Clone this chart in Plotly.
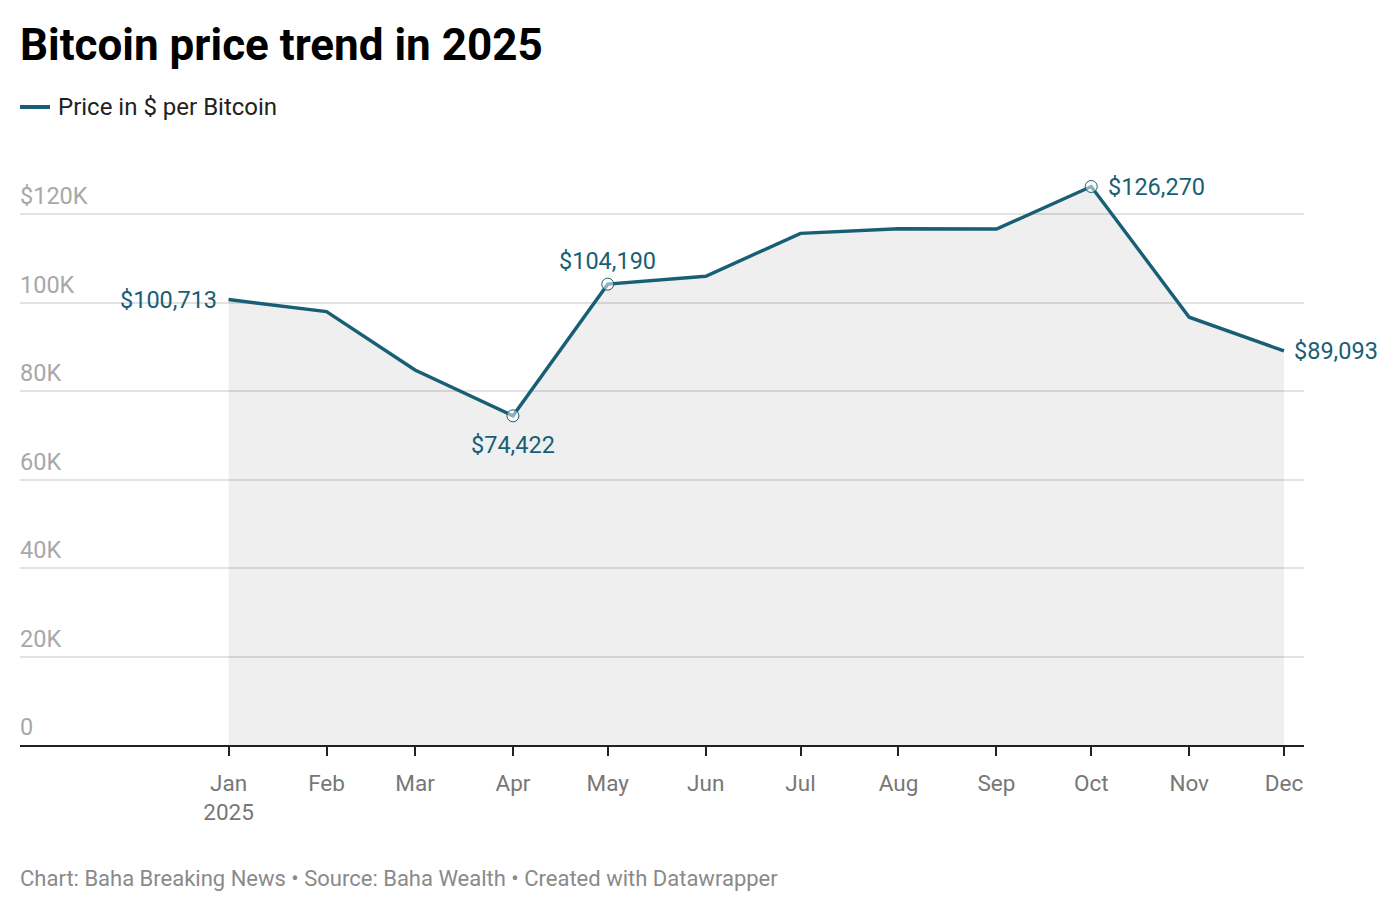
import plotly.graph_objects as go

# ---- data ----
dates = ["2025-01-01", "2025-02-01", "2025-03-01", "2025-04-01", "2025-05-01", "2025-06-01",
         "2025-07-01", "2025-08-01", "2025-09-01", "2025-10-01", "2025-11-01", "2025-12-01"]
prices = [100713, 97980, 84790, 74422, 104190, 105970, 115680, 116720, 116650, 126270, 96720, 89093]
month_labels = ["Jan<br>2025", "Feb", "Mar", "Apr", "May", "Jun", "Jul", "Aug", "Sep", "Oct", "Nov", "Dec"]
y_ticks = [0, 20000, 40000, 60000, 80000, 100000, 120000]
y_tick_labels = ["0", "20K", "40K", "60K", "80K", "100K", "$120K"]
marked_idx = [3, 4, 9]            # circled points
labeled_idx = [0, 3, 4, 9, 11]    # value labels

LINE = "#185f76"
FONT = "Roboto"

# plot area in figure pixels (page has an 8px body offset)
PT, PB = 162, 737
PH = PB - PT
PW = 1284


def py(px):
    return (PB - px) / PH


fig = go.Figure()
fig.add_trace(go.Scatter(
    x=dates, y=prices, mode="lines", fill="tozeroy", fillcolor="rgba(0,0,0,0.063)",
    line=dict(color=LINE, width=3.4), showlegend=False, hoverinfo="x+y"))
fig.add_trace(go.Scatter(
    x=[dates[i] for i in marked_idx], y=[prices[i] for i in marked_idx], mode="markers",
    marker=dict(size=12, color="rgba(255,255,255,0.5)", line=dict(color=LINE, width=1)),
    showlegend=False, hoverinfo="skip"))

# value labels
label_pos = {0: dict(xanchor="right", yanchor="middle", xshift=-10, yshift=0),
             3: dict(xanchor="center", yanchor="top", xshift=0, yshift=-13),
             4: dict(xanchor="center", yanchor="bottom", xshift=0, yshift=7),
             9: dict(xanchor="left", yanchor="middle", xshift=15, yshift=0),
             11: dict(xanchor="left", yanchor="middle", xshift=8, yshift=0)}
for i in labeled_idx:
    fig.add_annotation(x=dates[i], y=prices[i], xref="x", yref="y", text=f"${prices[i]:,}",
                       showarrow=False, font=dict(family=FONT, size=23.5, color=LINE),
                       **label_pos[i])

# y tick labels above gridlines
for v, t in zip(y_ticks, y_tick_labels):
    fig.add_annotation(x=0, y=v, xref="paper", yref="y", text=t, showarrow=False,
                       xanchor="left", yanchor="bottom", yshift=2, xshift=-2,
                       font=dict(family=FONT, size=23.5, color="#a8a8a8"))

# title, legend, footer
fig.add_annotation(x=0, y=py(45 - 8), xref="paper", yref="paper", xshift=-2,
                   text="<b>Bitcoin price trend in 2025</b>", showarrow=False,
                   xanchor="left", yanchor="middle", font=dict(family=FONT, size=44, color="#000"))
fig.add_shape(type="line", xref="paper", yref="paper", x0=0, x1=30 / PW,
              y0=py(107 - 8), y1=py(107 - 8), line=dict(color=LINE, width=4))
fig.add_annotation(x=36 / PW, y=py(107 - 8), xref="paper", yref="paper",
                   text="Price in $ per Bitcoin", showarrow=False, xanchor="left", yanchor="middle",
                   font=dict(family=FONT, size=24, color="#222"))
fig.add_annotation(x=0, y=py(878 - 8), xref="paper", yref="paper", xshift=-2,
                   text="Chart: Baha Breaking News • Source: Baha Wealth • Created with Datawrapper",
                   showarrow=False, xanchor="left", yanchor="middle",
                   font=dict(family=FONT, size=22, color="#8a8a8a"))

fig.update_layout(
    width=1400, height=912, paper_bgcolor="white", plot_bgcolor="white",
    margin=dict(l=12, r=1400 - 12 - PW, t=PT, b=912 - PB), showlegend=False,
    xaxis=dict(type="date", range=["2024-10-27", "2025-12-07 08:00"],
               tickvals=dates, ticktext=month_labels, ticks="outside", ticklen=9,
               tickwidth=2, tickcolor="#222", showline=True, linecolor="#222", linewidth=2,
               showgrid=False, zeroline=False, ticklabelstandoff=8,
               tickfont=dict(family=FONT, size=22.5, color="#777")),
    yaxis=dict(range=[0, 130000], tickvals=y_ticks, showticklabels=False, showgrid=True,
               gridcolor="#e2e2e2", gridwidth=1.5, zeroline=False, showline=False),
)

fig.write_html("out.html")
